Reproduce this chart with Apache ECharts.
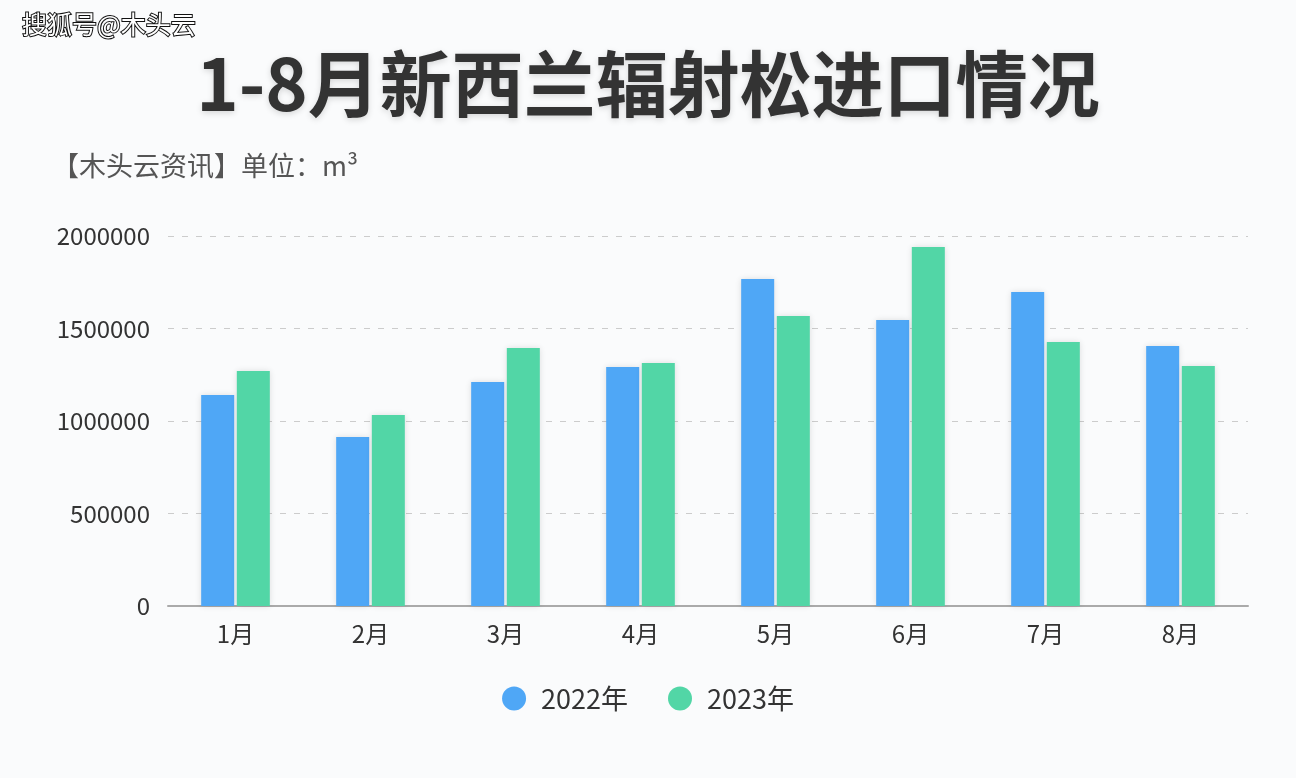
<!DOCTYPE html>
<html><head><meta charset="utf-8">
<script src="https://cdn.jsdelivr.net/npm/echarts@6/dist/echarts.min.js"></script>
<style>html,body{margin:0;padding:0;background:#fafbfc;}#c{width:1296px;height:778px;}</style>
</head><body><div id="c"></div>
<script>
const categories = ['1月','2月','3月','4月','5月','6月','7月','8月'];
const seriesNames = ['2022年','2023年'];
const values2022 = [1140000, 913000, 1211000, 1292000, 1768000, 1546000, 1697000, 1405000];
const values2023 = [1270000, 1032000, 1395000, 1314000, 1568000, 1941000, 1427000, 1297000];
const yTicks = [0, 500000, 1000000, 1500000, 2000000];

const font = '"Noto Sans CJK SC", "Noto Sans", sans-serif';
const chart = echarts.init(document.getElementById('c'));
chart.setOption({
  backgroundColor: '#fafbfc',
  animation: false,
  title: [
    { text: '1-8月新西兰辐射松进口情况', left: 'center', top: 43,
      textStyle: { fontFamily: font, fontSize: 72, fontWeight: 'bold', color: '#333333',
        textShadowColor: 'rgba(0,0,0,0.15)', textShadowBlur: 6, textShadowOffsetY: 2 } },
    { text: '【木头云资讯】单位：m³', left: 47, top: 147,
      textStyle: { fontFamily: font, fontSize: 27, fontWeight: 'normal', color: '#555555' } },
    { text: '搜狐号@木头云', left: 17, top: 7,
      textStyle: { fontFamily: font, fontSize: 25, fontWeight: 'normal', color: '#ffffff',
        textBorderColor: '#111111', textBorderWidth: 2 } }
  ],
  legend: {
    data: seriesNames, top: 680, left: 'center', icon: 'circle',
    itemWidth: 24, itemHeight: 24, itemGap: 40,
    textStyle: { fontFamily: font, fontSize: 27, color: '#333333', padding: [0, 0, 0, 10] }
  },
  grid: { left: 168, right: 48, top: 236, bottom: 172, containLabel: false },
  xAxis: {
    type: 'category', data: categories,
    axisLine: { lineStyle: { color: '#aaaaaa', width: 2 } },
    axisTick: { alignWithLabel: true, length: 8, lineStyle: { color: '#aaaaaa' } },
    axisLabel: { fontFamily: font, fontSize: 24, color: '#333333', margin: 16 }
  },
  yAxis: {
    type: 'value', min: yTicks[0], max: yTicks[yTicks.length - 1], interval: yTicks[1] - yTicks[0],
    axisLine: { show: false }, axisTick: { show: false },
    axisLabel: { fontFamily: font, fontSize: 24, color: '#333333', margin: 18,
      formatter: v => String(v) },
    splitLine: { lineStyle: { color: '#cccccc', type: [6, 8] } }
  },
  series: [
    { name: seriesNames[0], type: 'bar', data: values2022, barWidth: 33, barGap: '8%',
      itemStyle: { color: '#4fa7f6', shadowColor: 'rgba(0,0,0,0.12)', shadowBlur: 6 } },
    { name: seriesNames[1], type: 'bar', data: values2023, barWidth: 33,
      itemStyle: { color: '#52d6a6', shadowColor: 'rgba(0,0,0,0.12)', shadowBlur: 6 } }
  ]
});
</script></body></html>
